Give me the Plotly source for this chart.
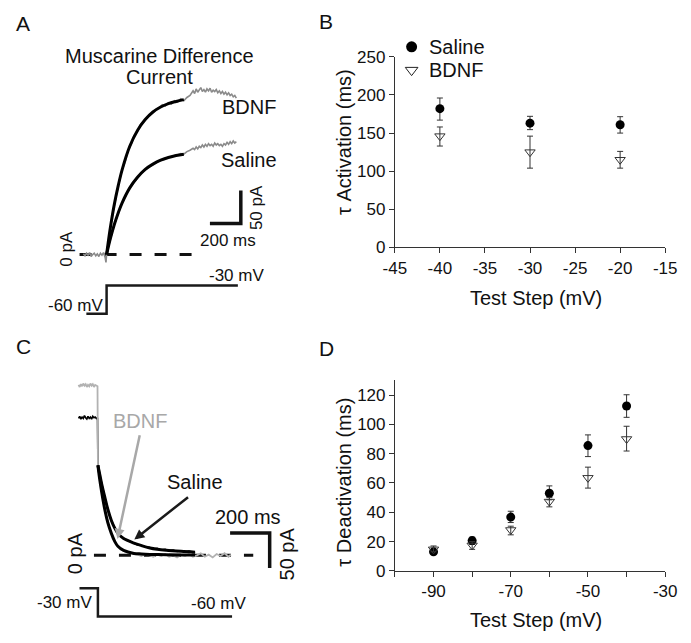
import plotly.graph_objects as go

W, H = 691, 643
FONT = "Liberation Sans, Arial, sans-serif"

# ---------------- Panel A: muscarine difference current (step -60 -> -30 mV) ----------------
A_BDNF_T = [-150, -140, -130, -120, -110, -100, -90, -80, -70, -60, -50, -40, -30, -20, -10, -4, 0,
            10, 20, 30, 40, 50, 60,
            80, 100, 120, 140, 160, 180, 200, 220, 240, 260, 280, 300, 320, 340, 360, 380, 400, 420,
            440, 460, 480, 500, 520, 540,
            560, 570, 580, 590, 600, 610, 620, 630, 640, 650, 660, 670, 680, 690, 700, 710, 720, 730,
            740, 750, 760, 770, 780, 790, 800, 810, 820, 830, 840]
A_BDNF_I = [1, -2, 2, -1, 3, -3, 0, 2, -2, 1, -3, 2, -1, 3, -4, -12, 0,
            18, 35, 48, 62, 76, 86,
            108, 128, 140, 158, 167, 181, 186, 197, 201, 207, 212, 215, 220, 222, 227, 225, 230, 228,
            233, 231, 236, 233, 238, 241,
            248, 244, 251, 246, 249, 253, 247, 250, 246, 251, 248, 252, 246, 249, 247, 250, 245, 248,
            244, 247, 243, 246, 242, 245, 241, 243, 239, 241, 237]
A_SAL_T = [0, 10, 20, 30, 40, 50, 60,
           80, 100, 120, 140, 160, 180, 200, 220, 240, 260, 280, 300, 320, 340, 360, 380, 400, 420,
           440, 460, 480, 500, 520, 540,
           560, 570, 580, 590, 600, 610, 620, 630, 640, 650, 660, 670, 680, 690, 700, 710, 720, 730,
           740, 750, 760, 770, 780, 790, 800, 810, 820, 830, 840]
A_SAL_I = [0, 10, 21, 28, 37, 45, 52,
           66, 78, 87, 97, 104, 111, 116, 122, 126, 130, 134, 136, 139, 142, 143, 146, 147, 149,
           150, 151, 153, 152, 156, 158,
           161, 159, 163, 160, 164, 162, 166, 163, 167, 164, 168, 165, 167, 164, 169, 166, 168, 165,
           167, 164, 168, 166, 170, 167, 171, 168, 172, 169, 171]
A_FIT_T = [0, 10, 25, 50, 75, 100, 150, 200, 250, 300, 350, 400, 450, 500]
A_FIT_BDNF = [0, 17.6, 41.7, 76, 104, 128, 164, 188, 204.5, 216, 223.5, 228.7, 232, 234.7]
A_FIT_SAL = [0, 10.4, 24.7, 45.5, 63, 78, 101, 117, 129, 137, 143, 147, 150, 152]
A_V_T = [-131, 0, 0, 850]
A_V_MV = [-60, -60, -30, -30]
A_BASE_T = [-175, 556]

# ---------------- Panel C: deactivation tail currents (step -30 -> -60 mV) ----------------
C_BDNF_T = [-98, -92, -86, -80, -74, -68, -62, -56, -50, -44, -38, -32, -26, -20, -14, -8, -2, 0,
            10, 20, 36, 50, 68, 85, 101, 120, 140, 160, 180,
            200, 220, 240, 260, 280, 300, 320, 340, 360, 380, 400, 420, 440, 460, 480, 500, 520, 540,
            560, 580, 600, 620, 640, 660, 672]
C_BDNF_I = [244, 241, 245, 242, 246, 243, 245, 241, 244, 242, 246, 243, 245, 241, 244, 243, 242, 129,
            107, 89, 64, 47, 31, 20, 13, 8, 5, 3, 2,
            1, -1, 2, 0, -2, 1, -1, 2, -2, 0, -3, 1, -1, 2, -2, 0, 3, -2,
            1, -3, 2, -1, 3, -2, 1]
C_SAL_T = [-98, -92, -86, -80, -74, -68, -62, -56, -50, -44, -38, -32, -26, -20, -14, -8, -2, 0,
           10, 20, 36, 50, 68, 85, 101, 130, 160, 182,
           200, 220, 240, 260, 280, 300, 320, 340, 360, 380, 400, 420, 440, 460, 480, 491]
C_SAL_I = [196, 199, 195, 198, 196, 200, 197, 195, 199, 196, 198, 195, 199, 197, 198, 196, 197, 129,
           115, 101, 82, 66, 50, 39, 31.5, 24, 20, 17.6,
           15, 14.5, 12, 11.5, 9, 10, 7.5, 8.5, 6.5, 7.5, 5.5, 6.5, 4.5, 6, 4, 5]
C_FIT_T = [0, 10, 20, 36, 50, 68, 85, 101, 130, 182, 220, 263, 300, 345, 420, 491]
C_FIT_SAL = [129, 115, 101, 82, 66, 50, 39, 31.5, 24, 17.6, 14, 10.6, 8.8, 7.4, 5.8, 4.6]
C_FIT_BDNF = [129, 107, 89, 64, 47, 31.5, 20, 13, 7, 2.8, 2, 1.4, 1.1, 0.9, 0.6, 0.5]
C_V_T = [-93, 0, 0, 678]
C_V_MV = [-30, -30, -60, -60]
C_BASE_T = [-20, 785]

SCALE_MS = 200
SCALE_PA = 50

# ---------------- Panel B: tau activation ----------------
B_STEP = [-40, -30, -20]
B_SAL = [182, 163, 161]
B_SAL_HI = [196, 172, 171.5]
B_SAL_LO = [167, 154.5, 150]
B_BDNF = [146, 125, 115]
B_BDNF_HI = [158, 146, 126]
B_BDNF_LO = [133, 104, 104]
B_XTICKS = [-45, -40, -35, -30, -25, -20, -15]
B_YTICKS = [0, 50, 100, 150, 200, 250]

# ---------------- Panel D: tau deactivation ----------------
D_STEP = [-90, -80, -70, -60, -50, -40]
D_SAL = [13, 20.7, 36.7, 53, 85.5, 112.5]
D_SAL_HI = [14.5, 23, 40.7, 58, 92.8, 120.2]
D_SAL_LO = [11.5, 18, 33, 48.5, 78, 104.8]
D_BDNF = [14.7, 17.4, 27.9, 47.3, 63.5, 90]
D_BDNF_HI = [17, 20, 30.5, 50, 70.8, 98.7]
D_BDNF_LO = [13, 14.7, 24.6, 43.7, 56.5, 81.8]
D_XTICKS = [-100, -90, -80, -70, -60, -50, -40, -30]
D_XLABELS = ["", "-90", "", "-70", "", "-50", "", "-30"]
D_YTICKS = [0, 20, 40, 60, 80, 100, 120]


def px(x):
    return x / W


def py(y):
    return 1 - y / H


def up(v, hi):
    return [h - m for m, h in zip(v, hi)]


def dn(v, lo):
    return [m - l for m, l in zip(v, lo)]


GRAY_A = "#8a8a8a"
GRAY_C = "#b2b2b2"
INK = "#111111"
BIG = 20
TICK = 17
SMALL = 17

fig = go.Figure()

# ---- Panel A traces ----
fig.add_trace(go.Scatter(x=A_BASE_T, y=[0, 0], mode="lines",
                         line=dict(color=INK, width=3, dash="12px,13px"), xaxis="x", yaxis="y"))
fig.add_trace(go.Scatter(x=A_BDNF_T, y=A_BDNF_I, mode="lines", line=dict(color=GRAY_A, width=1.6),
                         xaxis="x", yaxis="y"))
fig.add_trace(go.Scatter(x=A_SAL_T, y=A_SAL_I, mode="lines", line=dict(color=GRAY_A, width=1.6),
                         xaxis="x", yaxis="y"))
fig.add_trace(go.Scatter(x=A_FIT_T, y=A_FIT_BDNF, mode="lines", line=dict(color="black", width=3, shape="spline"),
                         xaxis="x", yaxis="y"))
fig.add_trace(go.Scatter(x=A_FIT_T, y=A_FIT_SAL, mode="lines", line=dict(color="black", width=3, shape="spline"),
                         xaxis="x", yaxis="y"))
# scale bars A
a_bx, a_by = 869, 47
fig.add_trace(go.Scatter(x=[a_bx - SCALE_MS, a_bx, a_bx], y=[a_by, a_by, a_by + SCALE_PA], mode="lines",
                         line=dict(color=INK, width=3.5), xaxis="x", yaxis="y"))
# voltage protocol A
fig.add_trace(go.Scatter(x=A_V_T, y=A_V_MV, mode="lines", line=dict(color="#1a1a1a", width=2.5),
                         xaxis="x", yaxis="y5"))

# ---- Panel C traces ----
fig.add_trace(go.Scatter(x=C_BASE_T, y=[0, 0], mode="lines",
                         line=dict(color=INK, width=3, dash="12px,13px"), xaxis="x3", yaxis="y3"))
fig.add_trace(go.Scatter(x=C_SAL_T, y=C_SAL_I, mode="lines", line=dict(color="black", width=1.6),
                         xaxis="x3", yaxis="y3"))
fig.add_trace(go.Scatter(x=C_BDNF_T, y=C_BDNF_I, mode="lines", line=dict(color=GRAY_C, width=1.8),
                         xaxis="x3", yaxis="y3"))
fig.add_trace(go.Scatter(x=C_FIT_T, y=C_FIT_SAL, mode="lines", line=dict(color="black", width=3, shape="spline"),
                         xaxis="x3", yaxis="y3"))
fig.add_trace(go.Scatter(x=C_FIT_T, y=C_FIT_BDNF, mode="lines", line=dict(color="black", width=3, shape="spline"),
                         xaxis="x3", yaxis="y3"))
c_bx, c_by = 868, 32
fig.add_trace(go.Scatter(x=[c_bx - SCALE_MS, c_bx, c_bx], y=[c_by, c_by, c_by - SCALE_PA], mode="lines",
                         line=dict(color=INK, width=3.5), xaxis="x3", yaxis="y3"))
fig.add_trace(go.Scatter(x=C_V_T, y=C_V_MV, mode="lines", line=dict(color="#1a1a1a", width=2.5),
                         xaxis="x3", yaxis="y6"))

# ---- Panel B ----
EB = dict(type="data", symmetric=False, thickness=1, width=3, color="#333333")
fig.add_trace(go.Scatter(x=B_STEP, y=B_SAL, mode="markers",
                         marker=dict(symbol="circle", size=9, color="black"),
                         error_y=dict(EB, array=up(B_SAL, B_SAL_HI), arrayminus=dn(B_SAL, B_SAL_LO)),
                         xaxis="x2", yaxis="y2"))
fig.add_trace(go.Scatter(x=B_STEP, y=B_BDNF, mode="markers",
                         marker=dict(symbol="triangle-down-open", size=9, color="#333333", line=dict(width=1)),
                         error_y=dict(EB, array=up(B_BDNF, B_BDNF_HI), arrayminus=dn(B_BDNF, B_BDNF_LO)),
                         xaxis="x2", yaxis="y2"))

# ---- Panel D ----
fig.add_trace(go.Scatter(x=D_STEP, y=D_SAL, mode="markers",
                         marker=dict(symbol="circle", size=9, color="black"),
                         error_y=dict(EB, array=up(D_SAL, D_SAL_HI), arrayminus=dn(D_SAL, D_SAL_LO)),
                         xaxis="x4", yaxis="y4"))
fig.add_trace(go.Scatter(x=D_STEP, y=D_BDNF, mode="markers",
                         marker=dict(symbol="triangle-down-open", size=9, color="#333333", line=dict(width=1)),
                         error_y=dict(EB, array=up(D_BDNF, D_BDNF_HI), arrayminus=dn(D_BDNF, D_BDNF_LO)),
                         xaxis="x4", yaxis="y4"))

# ---- legend markers (panel B), on a full-figure pixel overlay ----
fig.add_trace(go.Scatter(x=[414], y=[39], mode="markers", marker=dict(symbol="circle", size=11, color="black"),
                         xaxis="x5", yaxis="y7"))
fig.add_trace(go.Scatter(x=[414], y=[63], mode="markers",
                         marker=dict(symbol="triangle-down-open", size=11, color="#222222", line=dict(width=1)),
                         xaxis="x5", yaxis="y7"))

HID = dict(visible=False, showgrid=False, zeroline=False, fixedrange=True)
AX = dict(showline=True, linecolor="#333333", linewidth=1, ticks="outside", ticklen=5, tickcolor="#333333",
          tickwidth=1, showgrid=False, zeroline=False, fixedrange=True,
          tickfont=dict(family=FONT, size=TICK, color=INK))

fig.update_layout(
    width=W, height=H, margin=dict(l=0, r=0, t=0, b=0),
    paper_bgcolor="white", plot_bgcolor="rgba(0,0,0,0)", showlegend=False,
    font=dict(family=FONT, color=INK), hovermode=False,
    # A
    xaxis=dict(HID, domain=[0, px(290)], range=[-98 / 0.16, (290 - 98) / 0.16], anchor="y"),
    yaxis=dict(HID, domain=[py(320), 1], range=[(253 - 320) / 0.68, 253 / 0.68], anchor="x"),
    yaxis5=dict(HID, domain=[py(320), 1], overlaying="y", anchor="x",
                range=[-60 - (320 - 314) / 0.9667, -60 + 314 / 0.9667]),
    # C
    xaxis3=dict(HID, domain=[0, px(290)], range=[-89 / 0.205, (290 - 89) / 0.205], anchor="y3"),
    yaxis3=dict(HID, domain=[0, py(330)], range=[-(643 - 563) / 0.72, (563 - 330) / 0.72], anchor="x3"),
    yaxis6=dict(HID, domain=[0, py(330)], overlaying="y3", anchor="x3",
                range=[-60 - (643 - 626) / 0.9667, -30 + (597 - 330) / 0.9667]),
    # B
    xaxis2=dict(AX, domain=[px(396.6), px(676.7)], range=[-45, -15], anchor="y2",
                tickvals=B_XTICKS, ticktext=[str(v) for v in B_XTICKS]),
    yaxis2=dict(AX, domain=[py(245.7), py(49.3)], range=[0, 250], anchor="x2",
                tickvals=B_YTICKS, ticktext=[str(v) for v in B_YTICKS]),
    # D
    xaxis4=dict(AX, domain=[px(396.7), px(676.7)], range=[-100, -30], anchor="y4",
                tickvals=D_XTICKS, ticktext=D_XLABELS),
    yaxis4=dict(AX, domain=[py(579), py(382.7)], range=[0, 130], anchor="x4",
                tickvals=D_YTICKS, ticktext=[str(v) for v in D_YTICKS]),
    # overlay in pixel units
    xaxis5=dict(HID, domain=[0, 1], range=[0, W], anchor="y7"),
    yaxis7=dict(HID, domain=[0, 1], range=[H, 0], anchor="x5"),
)


def txt(s, x, y, size=BIG, color=INK, angle=0, xanchor="center"):
    return dict(text=s, x=px(x), y=py(y), xref="paper", yref="paper", showarrow=False,
                font=dict(family=FONT, size=size, color=color), textangle=angle,
                xanchor=xanchor, yanchor="middle")


ann = [
    txt("A", 11.5, 15, 21), txt("B", 325, 13, 21), txt("C", 11.5, 348, 21), txt("D", 326, 350, 21),
    # A
    txt("Muscarine Difference", 153, 48), txt("Current", 153, 70),
    txt("BDNF", 215, 101, xanchor="left"), txt("Saline", 214, 156, xanchor="left"),
    txt("50 pA", 254, 205, SMALL, angle=-90), txt("200 ms", 224, 239, SMALL),
    txt("0 pA", 57, 247, SMALL, angle=-90),
    txt("-30 mV", 233, 275, SMALL), txt("-60 mV", 66, 306, SMALL),
    # B
    txt("Saline", 430, 39, xanchor="left"), txt("BDNF", 430, 63, xanchor="left"),
    txt("τ Activation (ms)", 344, 137, angle=-90), txt("Test Step (mV)", 542.5, 298),
    # C
    txt("BDNF", 133, 425, color="#a8a8a8"), txt("Saline", 190, 487),
    txt("200 ms", 245, 523.5), txt("50 pA", 285, 562, angle=-90), txt("0 pA", 66, 561, angle=-90),
    txt("-30 mV", 54.5, 612, SMALL), txt("-60 mV", 214, 613, SMALL),
    # D
    txt("τ Deactivation (ms)", 344, 488, angle=-90), txt("Test Step (mV)", 542.5, 630),
    # arrows in C
    dict(text="", x=99, y=23.6, ax=213, ay=174, xref="x3", yref="y3", axref="x3", ayref="y3",
         showarrow=True, arrowhead=2, arrowsize=0.8, arrowwidth=2.5, arrowcolor="#a8a8a8",
         standoff=0, startstandoff=0),
    dict(text="", x=184, y=22.6, ax=463, ay=85, xref="x3", yref="y3", axref="x3", ayref="y3",
         showarrow=True, arrowhead=2, arrowsize=0.8, arrowwidth=2.5, arrowcolor="#1a1a1a",
         standoff=0, startstandoff=0),
]
fig.update_layout(annotations=ann)

fig.write_html("out.html", config={"displayModeBar": False, "staticPlot": True},
               post_script="document.body.style.margin='0px';")
